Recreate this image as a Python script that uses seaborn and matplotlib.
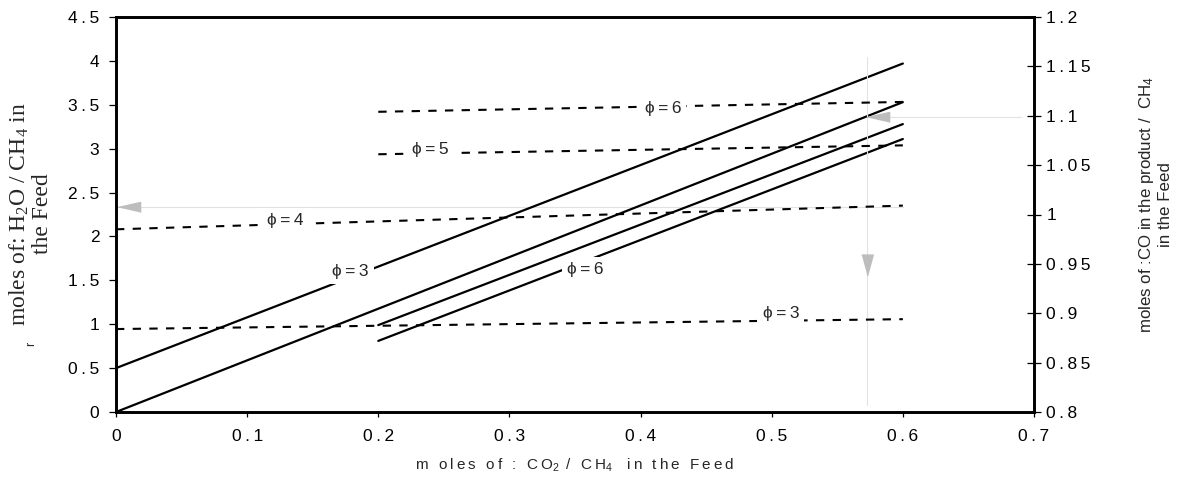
import numpy as np
import pandas as pd
import matplotlib
matplotlib.use("Agg")
import matplotlib.pyplot as plt
import seaborn as sb
from matplotlib.ticker import FuncFormatter, MultipleLocator

# solid lines, left axis: H2O/CH4 vs CO2/CH4
solid_names = ["phi3", "b", "c", "phi6"]
solid_x = [[0.0, 0.6], [0.0, 0.6], [0.2, 0.6], [0.2, 0.6]]
solid_y = [[0.50, 3.97], [0.0, 3.53], [0.99, 3.28], [0.81, 3.11]]

# dashed lines, right axis: CO in product / CH4
dash_names = ["phi6", "phi5", "phi4", "phi3"]
dash_x = [[0.2, 0.6], [0.2, 0.6], [0.0, 0.6], [0.0, 0.6]]
dash_y = [[1.104, 1.114], [1.061, 1.070], [0.985, 1.009], [0.884, 0.894]]

# curve labels: (x, y, text)
left_labels = [(0.179, 1.60, "ϕ=3"), (0.358, 1.62, "ϕ=6")]
right_labels = [(0.417, 1.107, "ϕ=6"), (0.240, 1.066, "ϕ=5"),
                (0.129, 0.994, "ϕ=4"), (0.507, 0.900, "ϕ=3")]

# grey reading guides
guide_left_x = [0.6, 0.0]
guide_left_y = [2.33, 2.33]
guide_right_x = [0.69, 0.573]
guide_right_y = [1.099, 1.099]
guide_vert_x = [0.5725, 0.5725]
guide_vert_y = [1.16, 0.807]

THIN = "\u2009"


def spaced(s):
    return THIN.join(s)


def tick_fmt(v, pos):
    txt = ("%.2f" % v).rstrip("0").rstrip(".")
    return spaced(txt)


sb.set_style("ticks")
plt.rcParams["font.family"] = ["Liberation Sans", "DejaVu Sans"]
plt.rcParams["mathtext.default"] = "regular"

solid_df = pd.DataFrame({
    "co2": sum(solid_x, []),
    "val": sum(solid_y, []),
    "curve": [n for n, xs in zip(solid_names, solid_x) for _ in xs],
})
dash_df = pd.DataFrame({
    "co2": sum(dash_x, []),
    "val": sum(dash_y, []),
    "curve": [n for n, xs in zip(dash_names, dash_x) for _ in xs],
})

fig = plt.figure(figsize=(11.79, 4.8), dpi=100)
ax = fig.add_axes([116 / 1179, 1 - 412 / 480, 918 / 1179, 395 / 480])
ax2 = ax.twinx()

grey_line = "#e2e2e2"
grey_head = "#bdbdbd"
head_left = [(-1, 0), (1, 0.45), (1, -0.45)]
head_down = [(0, -1), (0.55, 1), (-0.55, 1)]

ax.plot(guide_left_x, guide_left_y, color=grey_line, lw=0.8, zorder=1)
ax.plot([guide_left_x[-1] + 0.01], [guide_left_y[-1]], marker=head_left, ms=16,
        color=grey_head, ls="none", zorder=1)

sb.lineplot(data=solid_df, x="co2", y="val", units="curve", estimator=None,
            sort=False, color="black", linewidth=1.6, legend=False, ax=ax)

ax2.plot(guide_right_x, guide_right_y, color=grey_line, lw=0.8, zorder=1)
ax2.plot(guide_vert_x, guide_vert_y, color=grey_line, lw=0.8, zorder=1)
ax2.plot([guide_right_x[-1] + 0.008], [guide_right_y[-1]], marker=head_left, ms=16,
         color=grey_head, ls="none", zorder=1)
ax2.plot([guide_vert_x[0]], [0.949], marker=head_down, ms=15,
         color=grey_head, ls="none", zorder=1)

sb.lineplot(data=dash_df, x="co2", y="val", units="curve", estimator=None,
            sort=False, color="black", linewidth=1.5, linestyle=(0, (4, 4)),
            legend=False, ax=ax2)

box = dict(boxstyle="square,pad=0.3", fc="white", ec="none")
for x, y, t in left_labels:
    ax.text(x, y, spaced(t), ha="center", va="center", fontsize=12.5, bbox=box, zorder=5)
for x, y, t in right_labels:
    ax2.text(x, y, spaced(t), ha="center", va="center", fontsize=12.5, bbox=box, zorder=5)

ax.set_xlim(0, 0.7)
ax.set_ylim(0, 4.5)
ax2.set_ylim(0.8, 1.2)
ax.xaxis.set_major_locator(MultipleLocator(0.1))
ax.yaxis.set_major_locator(MultipleLocator(0.5))
ax2.yaxis.set_major_locator(MultipleLocator(0.05))
for a in (ax.xaxis, ax.yaxis, ax2.yaxis):
    a.set_major_formatter(FuncFormatter(tick_fmt))

ax.set_xlabel("")
ax.set_ylabel("")
ax2.set_ylabel("")
ax.tick_params(axis="y", direction="out", length=5, width=0.9, pad=7, labelsize=12.5, colors="black")
ax.tick_params(axis="x", direction="out", length=3.5, width=0.9, pad=9, labelsize=12.5, colors="black")
ax2.tick_params(axis="y", direction="inout", length=10, width=0.9, pad=4, labelsize=12.5, colors="black")
for a in (ax, ax2):
    for s in a.spines.values():
        s.set_visible(True)
        s.set_linewidth(1.9)
        s.set_color("black")

fig.text(30 / 1179, 1 - 214 / 480, "moles of: H$_2$O / CH$_4$ in\nthe Feed",
         rotation=90, ha="center", va="center", multialignment="center",
         family="Liberation Serif", fontsize=17, linespacing=1.05)
fig.text(31 / 1179, 1 - 344 / 480, "r", rotation=90, ha="center", va="center", fontsize=9)
fig.text(1155 / 1179, 1 - 205 / 480, "moles of :CO in the product /  CH$_4$\nin the Feed",
         rotation=90, ha="center", va="center", multialignment="center", fontsize=12.2)
xlab = spaced("m oles of : CO") + "$_2$" + spaced(" / CH") + "$_4$" + spaced("  in the Feed")
fig.text(575 / 1179, 1 - 465 / 480, xlab, ha="center", va="center", fontsize=11)

fig.savefig("out.png", dpi=100)
